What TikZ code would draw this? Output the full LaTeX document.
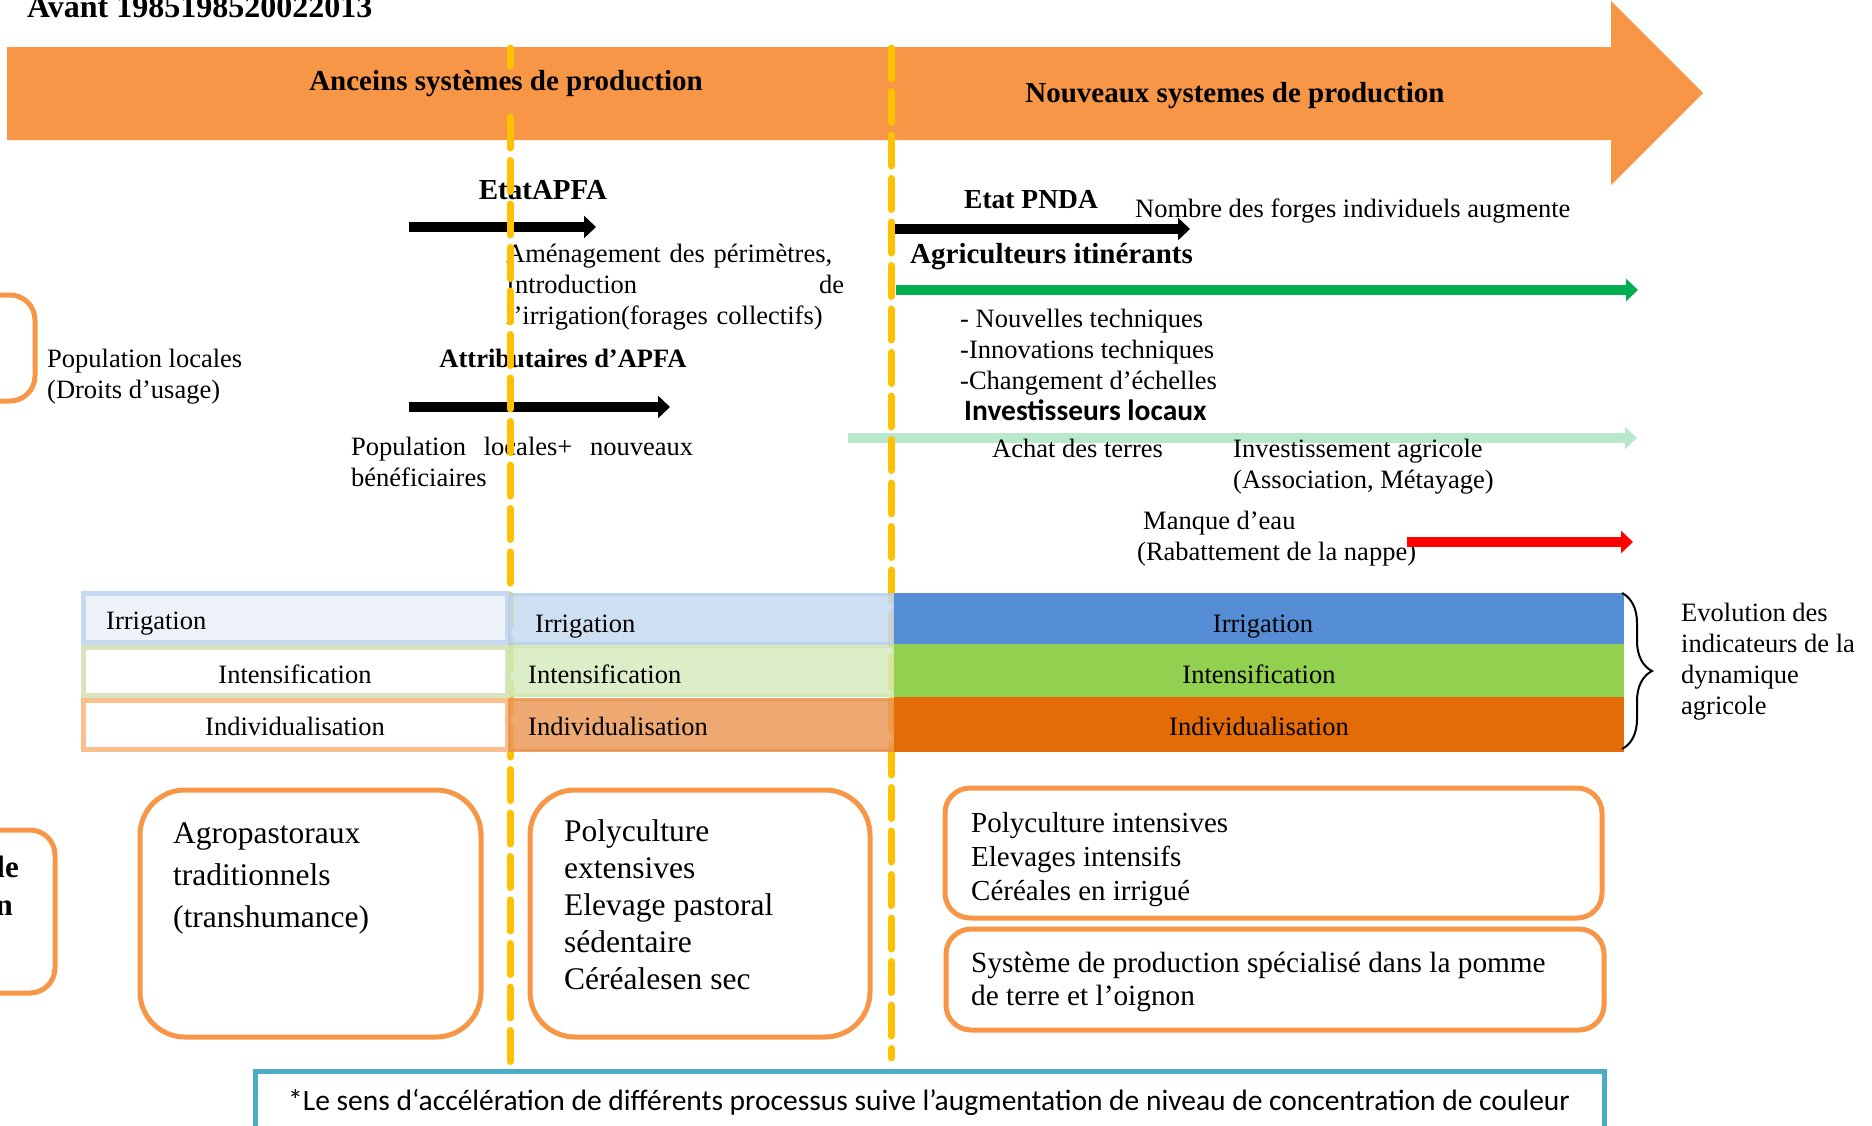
\documentclass[tikz,border=0pt]{standalone}
\usepackage{fontspec}
\setmainfont{Liberation Serif}
\newfontfamily\calibri{Carlito}
\usetikzlibrary{arrows.meta,decorations.pathreplacing}
\definecolor{bandorange}{HTML}{F79646}
\definecolor{gold}{HTML}{FFC000}
\definecolor{greenA}{HTML}{00B050}
\definecolor{mint}{HTML}{B8E9CE}
\definecolor{irrB}{HTML}{C6D9F1}
\definecolor{irrL}{HTML}{EEF3FA}
\definecolor{intB}{HTML}{D7E4BD}
\definecolor{indB}{HTML}{FAC090}
\definecolor{irrM}{HTML}{C6D9F0}
\definecolor{intM}{HTML}{D5EBBD}
\definecolor{indM}{HTML}{EB9A5A}
\definecolor{irrR}{HTML}{558ED5}
\definecolor{intR}{HTML}{92D050}
\definecolor{indR}{HTML}{E36C09}
\definecolor{noteblue}{HTML}{4BACC6}

\begin{document}
\begin{tikzpicture}[x=1pt,y=-1pt,
  txt/.style={inner sep=0pt,align=left,font=\fontsize{26.5}{31}\selectfont},
  ttl/.style={inner sep=0pt,font=\fontsize{#1}{31}\selectfont\bfseries},
  ttl/.default=28,
  big/.style={inner sep=0pt,align=left,font=\fontsize{31.5}{#1}\selectfont},
  thickarr/.style={line width=10pt,-{Triangle[length=12pt,width=22pt]}},
  period/.style={draw=gold,line width=7pt,line cap=round,dash pattern=on 31pt off 12.5pt},
  sysbox/.style={draw=bandorange,line width=5pt,rounded corners=#1},
  cellL/.style={line width=5pt},
  cellM/.style={line width=3pt,fill opacity=0.85,draw opacity=0.85}]
\useasboundingbox (0,0) rectangle (1872,1125);

\fill[bandorange] (7,47) -- (1611,47) -- (1611,1) -- (1703,93) -- (1611,185) -- (1611,140) -- (7,140) -- cycle;
\node[ttl=29,anchor=base] (old) at (506,90) {Anceins systèmes de production};
\node[ttl=29,anchor=base] (new) at (1235,102) {Nouveaux systemes de production};
\node[ttl=32,anchor=base west] (avant) at (27,17) {Avant 1985198520022013};

\node[ttl=29,anchor=base] (apfa) at (543,199) {EtatAPFA};
\coordinate (apfaS) at (409,227);
\coordinate (apfaE) at (596,227);
\draw[thickarr] (apfaS) -- (apfaE);
\node[txt,text width=338pt,anchor=base west] (amen) at (506,262)
  {Aménagement des périmètres,\\Introduction\hfill de\\l’irrigation(forages collectifs)};
\node[ttl=26.5,anchor=base] (attr) at (563,367) {Attributaires d’APFA};
\coordinate (attrS) at (409,407);
\coordinate (attrE) at (670,407);
\draw[thickarr] (attrS) -- (attrE);
\node[txt,text width=342pt,anchor=base west] (benef) at (351,455)
  {Population\hfill locales+\hfill nouveaux\\bénéficiaires};

\draw[sysbox=25pt] (-60,295) rectangle (35,401);
\node[txt,anchor=base west] (pop) at (47,398) {Population locales\\(Droits d’usage)};

\node[ttl=27.5,anchor=base west] (pnda) at (964,208) {Etat PNDA};
\node[txt,anchor=base west] (forges) at (1135,217) {Nombre des forges individuels augmente};
\coordinate (pndaS) at (894,229);
\coordinate (pndaE) at (1190,229);
\draw[thickarr] (pndaS) -- (pndaE);
\node[ttl=29,anchor=base west] (itin) at (910,263) {Agriculteurs itinérants};
\coordinate (itinS) at (896,290);
\coordinate (itinE) at (1638,290);
\draw[thickarr,greenA] (itinS) -- (itinE);
\node[txt,anchor=base west] (techn) at (960,389)
  {- Nouvelles techniques\\-Innovations techniques\\-Changement d’échelles};
\node[inner sep=0pt,font=\fontsize{29.5}{31}\selectfont\calibri\bfseries,anchor=base west] (invest) at (964,420) {Investisseurs locaux};
\coordinate (invS) at (848,438);
\coordinate (invE) at (1637,438);
\draw[thickarr,mint] (invS) -- (invE);
\node[txt,anchor=base west] (achat) at (992,457) {Achat des terres};
\node[txt,anchor=base west] (agric) at (1233,488) {Investissement agricole\\(Association, Métayage)};
\node[txt,anchor=base west] (eau) at (1137,560) {\hspace*{6pt}Manque d’eau\\(Rabattement de la nappe)};
\coordinate (eauS) at (1407,542);
\coordinate (eauE) at (1633,542);
\draw[thickarr,red] (eauS) -- (eauE);

\draw[period] (510,48) -- (510,66);
\draw[period] (510,117) -- (510,1065);
\draw[period] (891,48) -- (891,1058);

\draw[cellL,draw=irrB,fill=irrL] (83.5,593.5) rectangle (507.5,642.5);
\draw[cellL,draw=intB,fill=white] (83.5,647.5) rectangle (507.5,695.5);
\draw[cellL,draw=indB,fill=white] (83.5,700.5) rectangle (507.5,749.5);
\draw[cellM,draw=irrM!85!irrR,fill=irrM] (509,594.5) rectangle (893,643.5);
\draw[cellM,draw=intM!85!intR,fill=intM] (509,646.5) rectangle (893,695.5);
\draw[cellM,draw=indM!85!indR,fill=indM] (509,699.5) rectangle (893,750.5);
\fill[irrR] (894,593) rectangle (1624,644);
\fill[intR] (894,644) rectangle (1624,697);
\fill[indR] (894,697) rectangle (1624,752);

\node[txt,anchor=base west] (irr1) at (106,629) {Irrigation};
\node[txt,anchor=base] (int1) at (295,683) {Intensification};
\node[txt,anchor=base] (ind1) at (295,735) {Individualisation};
\node[txt,anchor=base west] (irr2) at (535,632) {Irrigation};
\node[txt,anchor=base west] (int2) at (528,683) {Intensification};
\node[txt,anchor=base west] (ind2) at (528,735) {Individualisation};
\node[txt,anchor=base] (irr3) at (1263,632) {Irrigation};
\node[txt,anchor=base] (int3) at (1259,683) {Intensification};
\node[txt,anchor=base] (ind3) at (1259,735) {Individualisation};

\coordinate (brT) at (1622,593);
\coordinate (brB) at (1622,749);
\draw[line width=2pt,decorate,decoration={brace,amplitude=30pt}] (brT) -- (brB);
\node[txt,anchor=base west] (evol) at (1681,714)
  {Evolution des\\indicateurs de la\\dynamique\\agricole};

\draw[sysbox=25pt] (-60,830) rectangle (55,993);
\node[ttl=31,anchor=base east] (cut1) at (19,877) {le};
\node[ttl=31,anchor=base east] (cut2) at (13,915) {n};

\draw[sysbox=45pt] (140,790) rectangle (481,1037);
\node[big=42,anchor=base west] (agro) at (173,927)
  {Agropastoraux\\traditionnels\\(transhumance)};
\draw[sysbox=45pt] (530,790) rectangle (870,1037);
\node[big=37,anchor=base west] (poly) at (564,989)
  {Polyculture\\extensives\\Elevage pastoral\\sédentaire\\Céréalesen sec};
\draw[sysbox=25pt] (945,788) rectangle (1602,918);
\node[inner sep=0pt,align=left,font=\fontsize{29}{34}\selectfont,anchor=base west] (inten) at (971,900)
  {Polyculture intensives\\Elevages intensifs\\Céréales en irrigué};
\draw[sysbox=25pt] (946,929) rectangle (1604,1030);
\node[inner sep=0pt,align=left,font=\fontsize{29.3}{33}\selectfont,anchor=base west] (pomme) at (971,1005)
  {Système de production spécialisé dans la pomme\\de terre et l’oignon};

\draw[draw=noteblue,line width=5pt] (255,1071) rectangle (1604,1140);
\node[inner sep=0pt,font=\fontsize{29.5}{31}\selectfont\calibri,anchor=base west] (note) at (288,1110)
  {*Le sens d‘accélération de différents processus suive l’augmentation de niveau de concentration de couleur};
\end{tikzpicture}
\end{document}
